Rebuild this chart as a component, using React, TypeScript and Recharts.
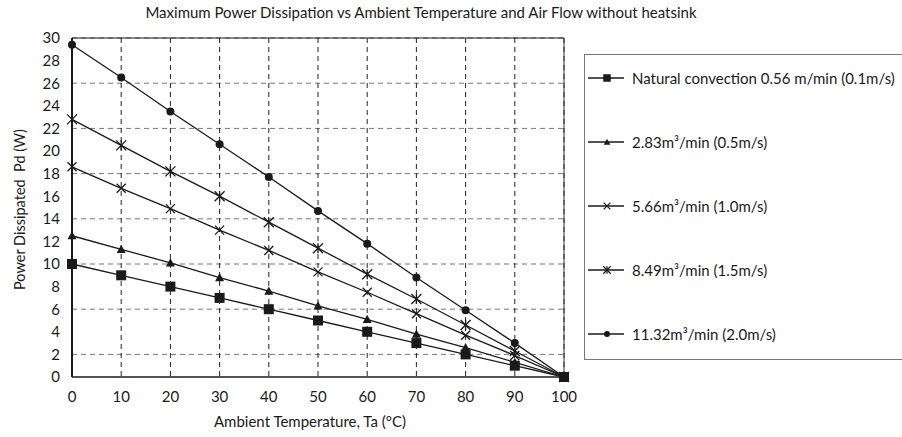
import React from 'react';
import {
  CartesianGrid,
  Line,
  LineChart,
  ReferenceLine,
  XAxis,
  YAxis,
} from 'recharts';

const temps = [0, 10, 20, 30, 40, 50, 60, 70, 80, 90, 100];
const natural = [10, 9, 8, 7, 6, 5, 4, 3, 2, 1, 0];
const flow283 = [12.5, 11.3, 10.1, 8.8, 7.6, 6.3, 5.1, 3.8, 2.6, 1.3, 0];
const flow566 = [18.6, 16.7, 14.9, 13.0, 11.2, 9.3, 7.5, 5.6, 3.7, 1.9, 0];
const flow849 = [22.8, 20.5, 18.2, 16.0, 13.7, 11.4, 9.1, 6.9, 4.6, 2.3, 0];
const flow1132 = [29.4, 26.5, 23.5, 20.6, 17.7, 14.7, 11.8, 8.8, 5.9, 3.0, 0];

const xTicks = [0, 10, 20, 30, 40, 50, 60, 70, 80, 90, 100];
const yTicks = [0, 2, 4, 6, 8, 10, 12, 14, 16, 18, 20, 22, 24, 26, 28, 30];

const FONT = 'Lato, "Open Sans", sans-serif';
const INK = '#1a1a1a';

type Shape = 'square' | 'triangle' | 'cross' | 'star' | 'circle';

function Marker({ shape, cx, cy, s }: { shape: Shape; cx: number; cy: number; s: number }) {
  const h = s / 2;
  switch (shape) {
    case 'square':
      return <rect x={cx - h} y={cy - h} width={s} height={s} fill={INK} />;
    case 'triangle':
      return (
        <polygon
          points={`${cx},${cy - h} ${cx - h},${cy + h * 0.8} ${cx + h},${cy + h * 0.8}`}
          fill={INK}
        />
      );
    case 'cross':
      return (
        <g stroke={INK} strokeWidth={1.3}>
          <line x1={cx - h} y1={cy - h} x2={cx + h} y2={cy + h} />
          <line x1={cx - h} y1={cy + h} x2={cx + h} y2={cy - h} />
        </g>
      );
    case 'star':
      return (
        <g stroke={INK} strokeWidth={1.3}>
          <line x1={cx - h} y1={cy - h} x2={cx + h} y2={cy + h} />
          <line x1={cx - h} y1={cy + h} x2={cx + h} y2={cy - h} />
          <line x1={cx} y1={cy - h} x2={cx} y2={cy + h} />
        </g>
      );
    default:
      return <circle cx={cx} cy={cy} r={h} fill={INK} />;
  }
}

const series: { key: string; name: string; values: number[]; shape: Shape; size: number }[] = [
  { key: 'natural', name: 'Natural convection 0.56 m/min (0.1m/s)', values: natural, shape: 'square', size: 10 },
  { key: 'f283', name: '2.83m³/min (0.5m/s)', values: flow283, shape: 'triangle', size: 9 },
  { key: 'f566', name: '5.66m³/min (1.0m/s)', values: flow566, shape: 'cross', size: 9 },
  { key: 'f849', name: '8.49m³/min (1.5m/s)', values: flow849, shape: 'star', size: 10 },
  { key: 'f1132', name: '11.32m³/min (2.0m/s)', values: flow1132, shape: 'circle', size: 8 },
];

const chartData = temps.map((t, i) => {
  const row: Record<string, number> = { t };
  series.forEach((s) => {
    row[s.key] = s.values[i];
  });
  return row;
});

function LegendBox() {
  return (
    <div
      style={{
        position: 'absolute',
        left: 584,
        top: 54,
        width: 320,
        height: 306,
        border: '1px solid #777',
        boxSizing: 'border-box',
        fontFamily: FONT,
        fontSize: 15,
        color: INK,
      }}
    >
      {series.map((s, i) => (
        <div
          key={s.key}
          style={{
            position: 'absolute',
            left: 3,
            top: 23 + i * 64 - 10,
            height: 20,
            display: 'flex',
            alignItems: 'center',
            whiteSpace: 'nowrap',
          }}
        >
          <svg width={36} height={20} style={{ marginRight: 8 }}>
            <line x1={0} y1={10} x2={36} y2={10} stroke={INK} strokeWidth={1.3} />
            <Marker shape={s.shape} cx={19} cy={10} s={s.size * 0.75} />
          </svg>
          <span>{s.name}</span>
        </div>
      ))}
    </div>
  );
}

export default function App() {
  return (
    <div
      style={{
        position: 'absolute',
        left: 0,
        top: 0,
        width: 902,
        height: 437,
        overflow: 'hidden',
        background: '#fff',
        fontFamily: FONT,
      }}
    >
      <div
        style={{
          position: 'absolute',
          top: 3,
          left: 0,
          width: 842,
          textAlign: 'center',
          fontSize: 15,
          color: INK,
        }}
      >
        Maximum Power Dissipation vs Ambient Temperature and Air Flow without heatsink
      </div>
      <LineChart
        width={902}
        height={437}
        data={chartData}
        margin={{ top: 38, right: 338, left: 0, bottom: 0 }}
      >
        <CartesianGrid
          vertical={false}
          stroke="#777"
          strokeDasharray="5 4"
          horizontalValues={yTicks}
        />
        <CartesianGrid
          horizontal={false}
          stroke="#222"
          strokeDasharray="5 4"
          verticalValues={xTicks}
        />
        <XAxis
          dataKey="t"
          type="number"
          domain={[0, 100]}
          ticks={xTicks}
          height={60}
          tickSize={0}
          tickMargin={14}
          axisLine={{ stroke: INK, strokeWidth: 1.5 }}
          tick={{ fill: INK, fontSize: 15, fontFamily: FONT }}
          label={{
            value: 'Ambient Temperature, Ta (°C)',
            position: 'insideBottom',
            offset: 10,
            dx: -8,
            fill: INK,
            fontSize: 15,
            fontFamily: FONT,
          }}
        />
        <YAxis
          type="number"
          domain={[0, 30]}
          ticks={yTicks}
          width={72}
          tickSize={0}
          tickMargin={12}
          axisLine={{ stroke: INK, strokeWidth: 2 }}
          tick={{ fill: INK, fontSize: 15, fontFamily: FONT }}
          label={{
            value: 'Power Dissipated\u00a0\u00a0Pd (W)',
            angle: -90,
            position: 'insideLeft',
            offset: 20,
            dy: 2,
            style: { textAnchor: 'middle' },
            fill: INK,
            fontSize: 14.5,
            fontFamily: FONT,
          }}
        />
        <ReferenceLine y={30} stroke={INK} strokeWidth={1.2} />
        <ReferenceLine x={100} stroke="#333" strokeWidth={1} />
        {[...series].reverse().map((s) => (
          <Line
            key={s.key}
            dataKey={s.key}
            name={s.name}
            stroke={INK}
            strokeWidth={1.3}
            isAnimationActive={false}
            dot={(p: any) => (
              <Marker key={`${s.key}-${p.index}`} shape={s.shape} cx={p.cx} cy={p.cy} s={s.size} />
            )}
            activeDot={false}
          />
        ))}
      </LineChart>
      <LegendBox />
    </div>
  );
}
